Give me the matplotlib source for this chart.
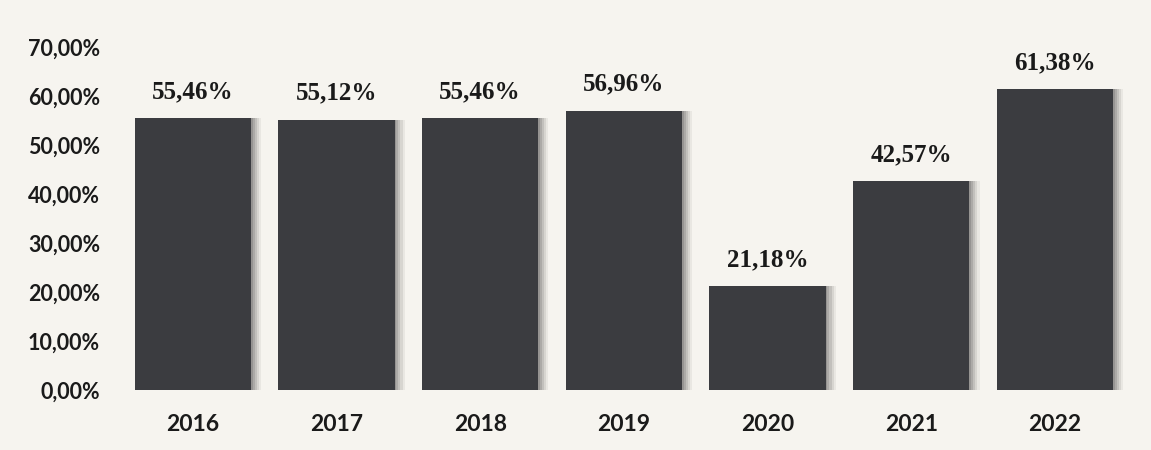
import matplotlib
matplotlib.use("Agg")
import matplotlib.pyplot as plt

years = ["2016", "2017", "2018", "2019", "2020", "2021", "2022"]
values = [55.46, 55.12, 55.46, 56.96, 21.18, 42.57, 61.38]
value_labels = ["55,46%", "55,12%", "55,46%", "56,96%", "21,18%", "42,57%", "61,38%"]
yticks = [0, 10, 20, 30, 40, 50, 60, 70]
ytick_labels = ["0,00%", "10,00%", "20,00%", "30,00%", "40,00%", "50,00%", "60,00%", "70,00%"]

bg = "#f6f4ef"
fig = plt.figure(figsize=(11.51, 4.5), dpi=100, facecolor=bg)
ax = fig.add_axes([0.105, 0.1333, 0.874, 0.7623], facecolor=bg)

x = list(range(len(years)))
width = 0.81
# soft shadow layers
for off, a in [(0.07, 0.08), (0.055, 0.12), (0.04, 0.16), (0.025, 0.2), (0.012, 0.25)]:
    ax.bar([i + off for i in x], values, width=width, color="#555555", alpha=a, zorder=1)
ax.bar(x, values, width=width, color="#3b3c40", zorder=2)

for i, (v, lab) in enumerate(zip(values, value_labels)):
    ax.annotate(lab, (i, v), xytext=(0, 11), textcoords="offset points",
                ha="center", va="bottom", fontsize=18, fontweight="bold",
                family="Liberation Serif", color="#1a1a1a")

ax.set_xlim(-0.5, 6.5)
ax.set_ylim(0, 70)
ax.set_yticks(yticks)
ax.set_yticklabels(ytick_labels, family="Lato", fontweight="bold", fontsize=15.5, color="#1a1a1a")
ax.set_xticks(x)
ax.set_xticklabels(years, family="Lato", fontweight="bold", fontsize=16.5, color="#1a1a1a")
ax.tick_params(axis="both", length=0)
ax.tick_params(axis="y", pad=15)
ax.tick_params(axis="x", pad=17)
for s in ax.spines.values():
    s.set_visible(False)

fig.savefig("out.png", dpi=100, facecolor=bg)
